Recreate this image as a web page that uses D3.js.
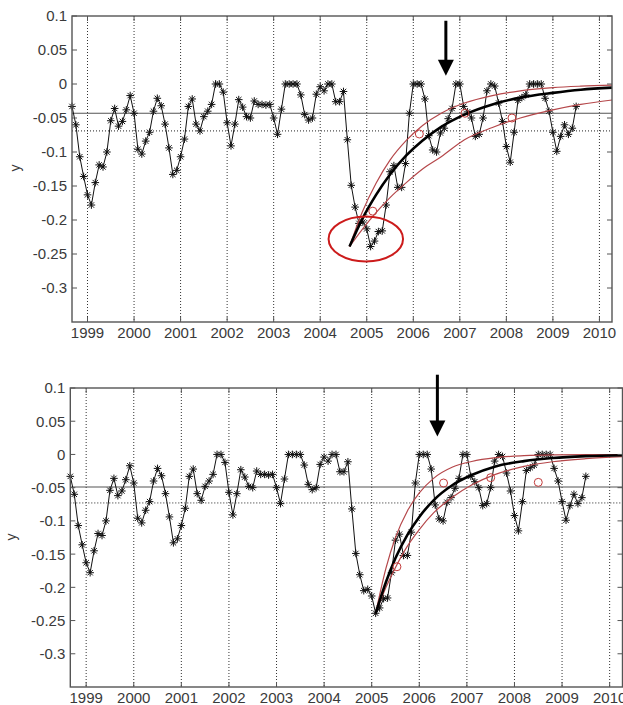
<!DOCTYPE html>
<html>
<head>
<meta charset="utf-8">
<script src="https://cdn.jsdelivr.net/npm/d3@7/dist/d3.min.js"></script>
<style>
  body { margin: 0; background: #fff; }
  svg { display: block; font-family: "Liberation Sans", Arial, sans-serif; }
</style>
</head>
<body>
<script>
// monthly series, first value is Sep 1998
const startYear = 1998 + 8 / 12;
const values = [
  -0.033, -0.060, -0.107, -0.136, -0.163, -0.178, -0.145, -0.119, -0.122, -0.100,
  -0.054, -0.036, -0.062, -0.055, -0.038, -0.017, -0.043, -0.096, -0.103, -0.084,
  -0.071, -0.040, -0.021, -0.032, -0.059, -0.094, -0.133, -0.127, -0.107, -0.081,
  -0.033, -0.022, -0.059, -0.069, -0.048, -0.040, -0.030, 0, 0, -0.012,
  -0.057, -0.091, -0.059, -0.023, -0.034, -0.048, -0.050, -0.025, -0.030, -0.030,
  -0.031, -0.030, -0.050, -0.074, -0.037, 0, 0, 0, 0, -0.016,
  -0.045, -0.053, -0.050, -0.015, -0.004, -0.010, 0, 0, -0.026, -0.026,
  -0.011, -0.082, -0.149, -0.181, -0.205, -0.203, -0.213, -0.239, -0.231, -0.217,
  -0.216, -0.178, -0.129, -0.120, -0.152, -0.152, -0.117, -0.043, 0, 0,
  0, -0.022, -0.076, -0.097, -0.100, -0.072, -0.065, -0.051, -0.036, 0,
  0, -0.033, -0.041, -0.050, -0.077, -0.074, -0.050, -0.010, 0, -0.003,
  -0.028, -0.055, -0.092, -0.115, -0.071, -0.024, -0.020, -0.016, 0, 0,
  0, 0, -0.021, -0.040, -0.071, -0.099, -0.077, -0.060, -0.074, -0.065,
  -0.033
];

const yearTicks = [1999, 2000, 2001, 2002, 2003, 2004, 2005, 2006, 2007, 2008, 2009, 2010];
const yTicks = [0.1, 0.05, 0, -0.05, -0.1, -0.15, -0.2, -0.25, -0.3];

// top panel: recovery fit started too early
const topFitT     = [2004.63, 2004.9, 2005.2, 2005.5, 2005.85, 2006.2, 2006.6, 2007.1, 2007.7, 2008.3, 2009.0, 2009.6, 2010.27];
const topFitMid   = [-0.239, -0.199, -0.163, -0.133, -0.105, -0.083, -0.063, -0.045, -0.030, -0.020, -0.013, -0.0084, -0.0054];
const topFitUpper = [-0.239, -0.189, -0.146, -0.112, -0.083, -0.061, -0.043, -0.028, -0.017, -0.010, -0.0053, -0.0032, -0.0018];
const topFitLower = [-0.239, -0.214, -0.189, -0.167, -0.145, -0.125, -0.107, -0.082, -0.064, -0.050, -0.038, -0.030, -0.0235];
const topCircleT  = [2005.13, 2006.13, 2007.11, 2008.12];
const topCircleV  = [-0.187, -0.0735, -0.043, -0.050];

// bottom panel: fit started at the minimum
const botFitT     = [2005.08, 2005.3, 2005.5, 2005.75, 2006.0, 2006.3, 2006.7, 2007.1, 2007.6, 2008.2, 2008.8, 2009.5, 2010.27];
const botFitMid   = [-0.240, -0.192, -0.156, -0.121, -0.094, -0.069, -0.046, -0.031, -0.018, -0.010, -0.0054, -0.0026, -0.0012];
const botFitUpper = [-0.240, -0.171, -0.125, -0.085, -0.058, -0.036, -0.019, -0.0106, -0.0048, -0.0019, -0.0007, -0.0003, -0.0001];
const botFitLower = [-0.240, -0.200, -0.170, -0.138, -0.113, -0.088, -0.064, -0.046, -0.030, -0.018, -0.011, -0.0064, -0.0034];
const botCircleT  = [2005.53, 2006.51, 2007.50, 2008.50];
const botCircleV  = [-0.169, -0.043, -0.035, -0.042];

const svg = d3.select("body").append("svg")
  .attr("width", 623)
  .attr("height", 705);

const red = "#b5474a";
const star = "M-3.8,0H3.8M0,-3.8V3.8M-2.7,-2.7L2.7,2.7M-2.7,2.7L2.7,-2.7";

function drawPanel(p) {
  const x = d3.scaleLinear().domain([startYear, 2010.27]).range([p.left, p.right]);
  const y = d3.scaleLinear().domain([-0.35, 0.1]).range([p.bottom, p.top]);
  const g = svg.append("g");

  // dotted year grid
  g.selectAll(".vgrid").data(yearTicks).enter().append("line")
    .attr("x1", d => x(d)).attr("x2", d => x(d))
    .attr("y1", p.top).attr("y2", p.bottom)
    .attr("stroke", "#333").attr("stroke-width", 1)
    .attr("stroke-dasharray", "1,2");

  // mean and threshold lines
  g.append("line")
    .attr("x1", p.left).attr("x2", p.right)
    .attr("y1", y(p.mean)).attr("y2", y(p.mean))
    .attr("stroke", "#555").attr("stroke-width", 1.2);
  g.append("line")
    .attr("x1", p.left).attr("x2", p.right)
    .attr("y1", y(p.thresh)).attr("y2", y(p.thresh))
    .attr("stroke", "#222").attr("stroke-width", 1)
    .attr("stroke-dasharray", "1,2");

  // data line + star markers
  const pts = values.map((v, i) => [startYear + i / 12, v]);
  g.append("path")
    .datum(pts)
    .attr("fill", "none").attr("stroke", "#111").attr("stroke-width", 1)
    .attr("d", d3.line().x(d => x(d[0])).y(d => y(d[1])));
  g.selectAll(".star").data(pts).enter().append("path")
    .attr("transform", d => `translate(${x(d[0])},${y(d[1])})`)
    .attr("d", star)
    .attr("stroke", "#111").attr("stroke-width", 1).attr("fill", "none");

  // fitted curves
  const fitLine = vals => d3.line().curve(d3.curveMonotoneX)
    .x((d, i) => x(p.fitT[i])).y(d => y(d))(vals);
  g.append("path").attr("d", fitLine(p.fitUpper))
    .attr("fill", "none").attr("stroke", red).attr("stroke-width", 1.2);
  g.append("path").attr("d", fitLine(p.fitLower))
    .attr("fill", "none").attr("stroke", red).attr("stroke-width", 1.2);
  g.append("path").attr("d", fitLine(p.fitMid))
    .attr("fill", "none").attr("stroke", "#000").attr("stroke-width", 2.6);

  g.selectAll(".circ").data(p.circT).enter().append("circle")
    .attr("cx", d => x(d))
    .attr("cy", (d, i) => y(p.circV[i]))
    .attr("r", 4)
    .attr("fill", "none").attr("stroke", "#c23b3b").attr("stroke-width", 1);

  // axes box
  g.append("rect")
    .attr("x", p.left).attr("y", p.top)
    .attr("width", p.right - p.left).attr("height", p.bottom - p.top)
    .attr("fill", "none").attr("stroke", "#555").attr("stroke-width", 1.4);

  // inward ticks
  yTicks.forEach(v => {
    g.append("line").attr("x1", p.left).attr("x2", p.left + 5)
      .attr("y1", y(v)).attr("y2", y(v)).attr("stroke", "#555");
    g.append("line").attr("x1", p.right).attr("x2", p.right - 5)
      .attr("y1", y(v)).attr("y2", y(v)).attr("stroke", "#555");
  });
  yearTicks.forEach(t => {
    g.append("line").attr("x1", x(t)).attr("x2", x(t))
      .attr("y1", p.bottom).attr("y2", p.bottom - 5).attr("stroke", "#555");
    g.append("line").attr("x1", x(t)).attr("x2", x(t))
      .attr("y1", p.top).attr("y2", p.top + 5).attr("stroke", "#555");
  });

  // tick labels
  g.selectAll(".ylab").data(yTicks).enter().append("text")
    .attr("x", p.left - 5).attr("y", d => y(d)).attr("dy", "0.36em")
    .attr("text-anchor", "end").attr("font-size", 15).attr("fill", "#3a3a3a")
    .text(d => String(d));
  g.selectAll(".xlab").data(yearTicks).enter().append("text")
    .attr("x", d => x(d)).attr("y", p.bottom + 16)
    .attr("text-anchor", "middle").attr("font-size", 15).attr("fill", "#3a3a3a")
    .text(d => d);

  g.append("text")
    .attr("transform", `translate(${p.ylabX},${p.ylabY}) rotate(-90)`)
    .attr("text-anchor", "middle").attr("font-size", 14).attr("fill", "#3a3a3a")
    .text("y");

  // arrow
  const ax = x(p.arrow.t), ay0 = y(p.arrow.from), ay1 = y(p.arrow.to);
  g.append("line").attr("x1", ax).attr("x2", ax)
    .attr("y1", ay0).attr("y2", ay1 - 12)
    .attr("stroke", "#000").attr("stroke-width", 3);
  g.append("path")
    .attr("d", `M${ax - 8},${ay1 - 16}L${ax + 8},${ay1 - 16}L${ax},${ay1}Z`)
    .attr("fill", "#000");

  return {g, x, y};
}

const topPanel = drawPanel({
  left: 72, right: 612, top: 16, bottom: 322,
  mean: -0.043, thresh: -0.069,
  fitT: topFitT, fitMid: topFitMid, fitUpper: topFitUpper, fitLower: topFitLower,
  circT: topCircleT, circV: topCircleV,
  ylabX: 20, ylabY: 168,
  arrow: {t: 2006.70, from: 0.093, to: 0.012}
});

// ellipse highlighting the early fit start
topPanel.g.append("ellipse")
  .attr("cx", topPanel.x(2004.98)).attr("cy", topPanel.y(-0.228))
  .attr("rx", topPanel.x(2004.98 + 0.80) - topPanel.x(2004.98))
  .attr("ry", topPanel.y(-0.228 - 0.033) - topPanel.y(-0.228))
  .attr("fill", "none").attr("stroke", "#cc1b1b").attr("stroke-width", 2);

const bottomPanel = drawPanel({
  left: 70.3, right: 622.5, top: 388, bottom: 687,
  mean: -0.049, thresh: -0.073,
  fitT: botFitT, fitMid: botFitMid, fitUpper: botFitUpper, fitLower: botFitLower,
  circT: botCircleT, circV: botCircleV,
  ylabX: 16, ylabY: 537,
  arrow: {t: 2006.38, from: 0.120, to: 0.027}
});
</script>
</body>
</html>
